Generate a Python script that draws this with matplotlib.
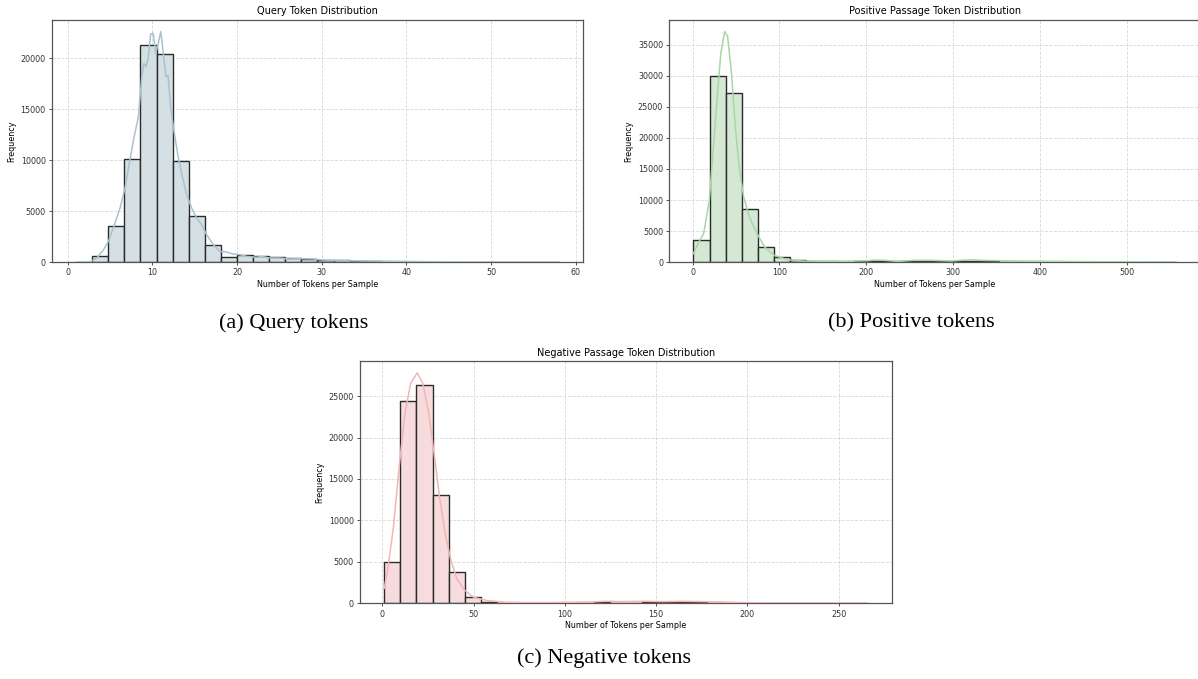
import numpy as np
import matplotlib
matplotlib.use('Agg')
import matplotlib.pyplot as plt
from matplotlib.ticker import MultipleLocator

# ---- Query tokens: 30 bins over [1, 58]
query_range = (1, 58)
query_counts = [10, 620, 3500, 10130, 21340, 20450, 9970, 4560, 1700, 520,
                650, 590, 500, 390, 330, 230, 200, 100, 70, 50,
                40, 30, 20, 15, 10, 8, 6, 4, 3, 2]
query_kde_x = [1, 2.7, 3.45, 4.24, 4.82, 5.4, 6.2, 6.78, 7.37, 7.84, 8.35, 8.75, 9.0, 9.25,
               9.53, 9.8, 10.1, 10.4, 10.7, 11.0, 11.3, 11.6, 11.85, 12.2, 12.67, 13.06,
               13.57, 14.04, 14.63, 15.2, 15.8, 16.4, 17.2, 17.96, 18.75, 19.5, 20.3, 21.1,
               22.3, 22.9, 23.8, 25, 26.2, 27.5, 29, 30, 32, 35, 40, 43, 50, 58]
query_kde_y = [0, 40, 400, 1220, 2040, 3360, 5340, 7310, 10100, 12260, 14230, 18190, 19500, 19180,
               20160, 22400, 22470, 20490, 21480, 22640, 20490, 18190, 18350, 14890, 12260, 10280,
               8300, 6660, 5340, 4350, 3690, 2700, 1710, 1050, 990, 790, 725, 560,
               460, 560, 400, 400, 300, 330, 300, 200, 130, 100, 65, 30, 15, 5]

# ---- Positive passage tokens: 30 bins over [1, 557]
pos_range = (1, 557)
pos_counts = [3600, 30050, 27300, 8500, 2400, 800, 250, 120, 90, 80,
              110, 180, 120, 140, 170, 140, 110, 220, 130, 80,
              60, 50, 40, 35, 30, 25, 20, 15, 10, 8]
pos_kde_x = [1, 6.1, 12.7, 19.3, 23.7, 28.1, 32.5, 36.9, 40.4, 44.8, 49.2, 53.6, 58.8, 65.4,
             74.2, 83, 94, 109, 127, 158, 201, 210, 221, 237, 254, 276, 298, 320, 333,
             377, 421, 465, 557]
pos_kde_y = [1350, 2960, 4580, 9960, 18040, 26120, 33660, 37160, 36350, 30430, 21810, 15350,
             10500, 7270, 4580, 2420, 1080, 380, 160, 100, 200, 320, 270, 100, 270, 270, 160,
             380, 270, 160, 100, 50, 10]

# ---- Negative passage tokens: 30 bins over [1, 266]
neg_range = (1, 266)
neg_counts = [4980, 24440, 26290, 13060, 3780, 760, 200, 50, 30, 20,
              30, 60, 90, 120, 80, 70, 150, 120, 180, 120,
              80, 60, 30, 20, 15, 10, 8, 5, 4, 3]
neg_kde_x = [1, 2.9, 6.1, 9.2, 12.4, 15.5, 19.1, 22.2, 25.4, 28.1, 31.3, 34.4, 37.5, 40.7,
             44.9, 50.1, 57.5, 68, 84.7, 101.5, 114, 122.5, 131, 143.5, 154, 164.4, 175,
             185.4, 196, 217, 266]
neg_kde_y = [1810, 4020, 9240, 16480, 22910, 26530, 27810, 26530, 22910, 18490, 12860, 8440,
             5230, 3010, 1610, 720, 320, 120, 80, 120, 160, 240, 200, 240, 200, 240, 200,
             160, 80, 40, 10]


def drawHist(ax, rng, counts, kde_x, kde_y, fill, line, title, xstep, ystep):
    edges = np.linspace(rng[0], rng[1], len(counts) + 1)
    ax.bar(edges[:-1], counts, width=np.diff(edges), align='edge', color=fill,
           edgecolor='#2b2b2b', linewidth=1.0, zorder=2)
    ax.plot(kde_x, kde_y, color=line, linewidth=1.1, zorder=3)
    ax.set_title(title, fontsize=7, pad=4)
    ax.set_xlabel('Number of Tokens per Sample', fontsize=5.8, labelpad=2)
    ax.set_ylabel('Frequency', fontsize=5.8, labelpad=3)
    ax.xaxis.set_major_locator(MultipleLocator(xstep))
    ax.yaxis.set_major_locator(MultipleLocator(ystep))
    ax.tick_params(labelsize=5.8, length=2.5, width=0.6, pad=2, colors='#333333')
    ax.grid(True, linestyle='--', color='#d0d0d0', linewidth=0.6, alpha=0.8, zorder=0)
    ax.set_axisbelow(True)
    for s in ax.spines.values():
        s.set_color('#555555')
        s.set_linewidth(0.9)
    ax.set_ylim(bottom=0)


fig = plt.figure(figsize=(11.98, 6.79), dpi=100)

ax1 = fig.add_axes([0.0434, 0.6141, 0.4432, 0.3564])
drawHist(ax1, query_range, query_counts, query_kde_x, query_kde_y,
         '#d5e0e4', '#a9c3cc', 'Query Token Distribution', 10, 5000)

ax2 = fig.add_axes([0.5587, 0.6141, 0.4432, 0.3564])
drawHist(ax2, pos_range, pos_counts, pos_kde_x, pos_kde_y,
         '#d4e8d4', '#a8d6a8', 'Positive Passage Token Distribution', 100, 5000)

ax3 = fig.add_axes([0.3005, 0.1115, 0.4441, 0.3564])
drawHist(ax3, neg_range, neg_counts, neg_kde_x, neg_kde_y,
         '#f6dcdc', '#f3b5b5', 'Negative Passage Token Distribution', 50, 5000)

cap = dict(fontsize=16, family='Liberation Serif', ha='center', va='center')
fig.text(0.245, 0.5243, '(a) Query tokens', **cap)
fig.text(0.7604, 0.5243, '(b) Positive tokens', **cap)
fig.text(0.504, 0.031, '(c) Negative tokens', **cap)

plt.savefig('out.png', dpi=100)
